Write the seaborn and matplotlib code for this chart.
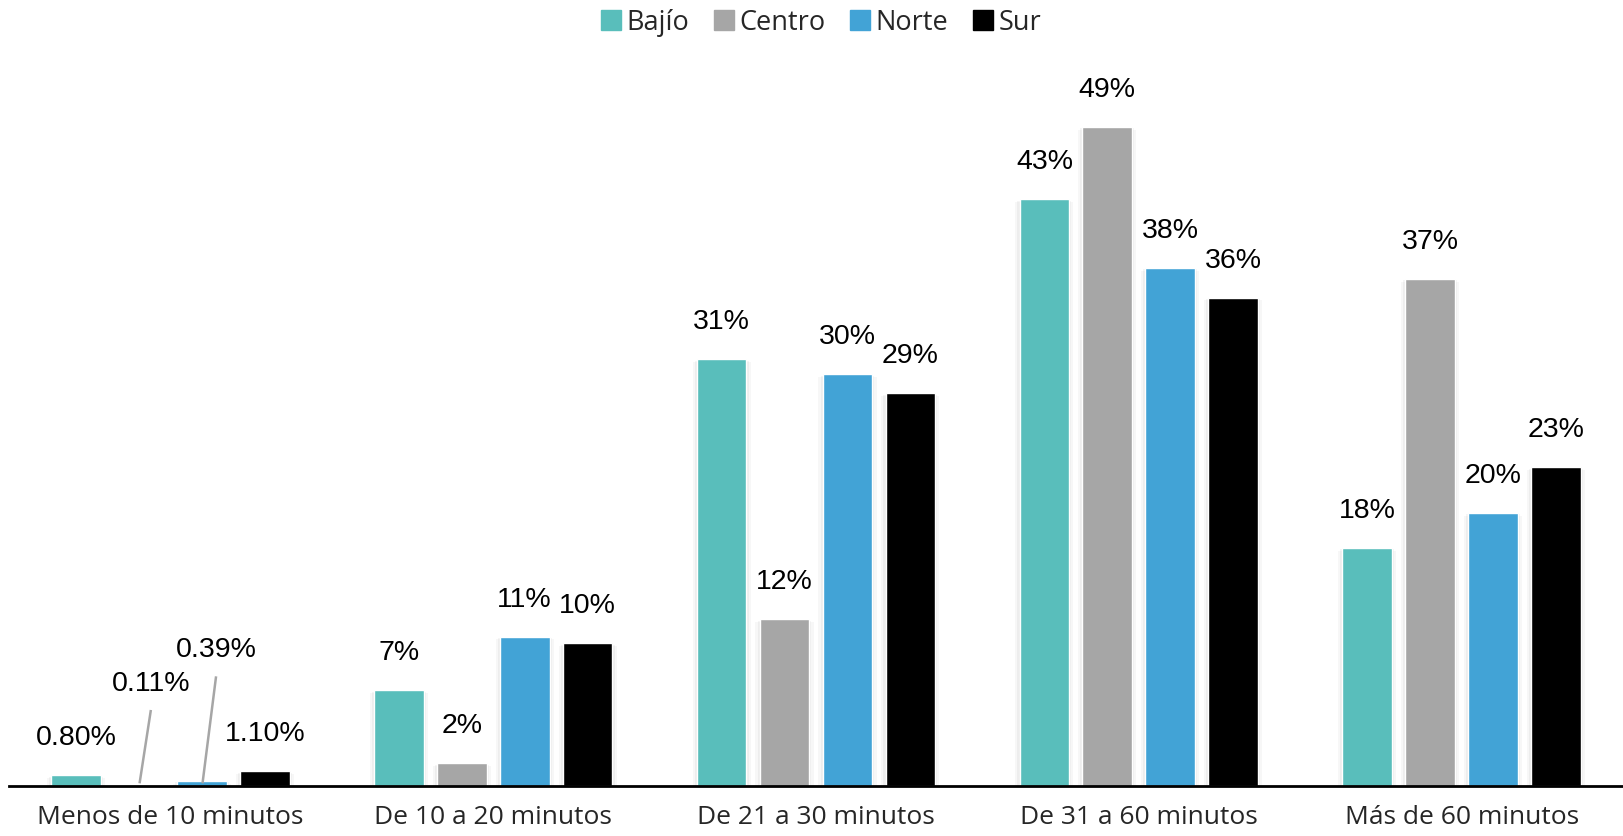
import matplotlib
matplotlib.use("Agg")
import matplotlib.pyplot as plt
import matplotlib.patheffects as pe
import pandas as pd
import seaborn as sns

# data
categories = ["Menos de 10 minutos", "De 10 a 20 minutos", "De 21 a 30 minutos",
              "De 31 a 60 minutos", "Más de 60 minutos"]
regions = ["Bajío", "Centro", "Norte", "Sur"]
bajio = [0.80, 7.1, 31.7, 43.6, 17.7]
centro = [0.11, 1.7, 12.4, 49.0, 37.7]
norte = [0.39, 11.1, 30.6, 38.5, 20.3]
sur = [1.10, 10.6, 29.2, 36.3, 23.7]
labels_bajio = ["0.80%", "7%", "31%", "43%", "18%"]
labels_centro = ["0.11%", "2%", "12%", "49%", "37%"]
labels_norte = ["0.39%", "11%", "30%", "38%", "20%"]
labels_sur = ["1.10%", "10%", "29%", "36%", "23%"]

colors = ["#59BEBB", "#A6A6A6", "#42A3D6", "#000000"]

rows = []
for reg, vals in zip(regions, [bajio, centro, norte, sur]):
    for cat, v in zip(categories, vals):
        rows.append({"cat": cat, "region": reg, "value": v})
df = pd.DataFrame(rows)

sns.set_style("white")
plt.rcParams['font.family'] = ['Open Sans', 'DejaVu Sans']

fig = plt.figure(figsize=(16.23, 8.36), dpi=100)
ax = fig.add_axes([9/1623, 50/836, 1614/1623, 740/836])

sns.barplot(data=df, x="cat", y="value", hue="region", order=categories,
            hue_order=regions, palette=colors, width=0.78, gap=0.21,
            saturation=1, ax=ax, legend=False, errorbar=None)

# soft shadow around the bars
shadow = [pe.SimplePatchShadow(offset=(-3, -2), shadow_rgbFace="#000000", alpha=0.03),
          pe.SimplePatchShadow(offset=(3, -2), shadow_rgbFace="#000000", alpha=0.03),
          pe.SimplePatchShadow(offset=(-1.5, -1), shadow_rgbFace="#000000", alpha=0.04),
          pe.SimplePatchShadow(offset=(1.5, -1), shadow_rgbFace="#000000", alpha=0.04),
          pe.Normal()]

all_labels = [labels_bajio, labels_centro, labels_norte, labels_sur]
for i, cont in enumerate(ax.containers):
    for j, bar in enumerate(cont):
        bar.set_path_effects(shadow)
        x = bar.get_x() + bar.get_width() / 2
        h = bar.get_height()
        txt = all_labels[i][j]
        if j == 0 and i in (1, 2):
            # small values with leader lines
            ty = 7.6 if i == 1 else 10.1
            dx = 0.037 if i == 1 else 0.044
            ax.text(x + dx, ty, txt, ha="center", va="center", fontsize=20.5,
                    family="Liberation Sans", color="#000000")
            ax.plot([x + dx, x + 0.002], [ty - 1.95, 0.2], color="#A6A6A6",
                    lw=1.8, solid_capstyle="butt")
        else:
            ax.text(x, h + 2.75, txt, ha="center", va="center", fontsize=20.5,
                    family="Liberation Sans", color="#000000")

ax.set_ylim(0, 55)
ax.set_xlim(-0.5, 4.5)
ax.set_xlabel("")
ax.set_ylabel("")
ax.set_yticks([])
ax.tick_params(axis="x", length=0, labelsize=19, pad=14)
for s in ["top", "left", "right"]:
    ax.spines[s].set_visible(False)
ax.spines["bottom"].set_color("#000000")
ax.spines["bottom"].set_linewidth(2)

handles = [plt.Rectangle((0, 0), 1, 1, color=c) for c in colors]
fig.legend(handles, regions, loc="center", bbox_to_anchor=(0.506, 0.973), ncol=4,
           frameon=False, fontsize=19.5, handlelength=0.75, handleheight=0.75,
           handletextpad=0.2, columnspacing=0.9)

fig.savefig("out.png", dpi=100)
